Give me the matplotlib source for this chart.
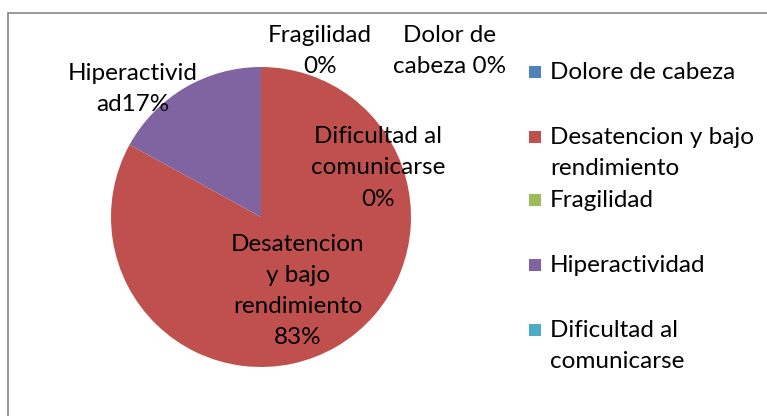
import matplotlib

matplotlib.use("Agg")
import matplotlib.pyplot as plt
from matplotlib.patches import Rectangle

plt.rcParams["font.family"] = ["Lato", "DejaVu Sans"]

categories = [
    "Dolore de cabeza",
    "Desatencion y bajo\nrendimiento",
    "Fragilidad",
    "Hiperactividad",
    "Dificultad al\ncomunicarse",
]
shares = [0, 83, 0, 17, 0]
data_labels = [
    "Dolor de\ncabeza 0%",
    "Desatencion\ny bajo\nrendimiento\n83%",
    "Fragilidad\n0%",
    "Hiperactivid\nad17%",
    "Dificultad al\ncomunicarse\n0%",
]
colors = ["#4F81BD", "#C0504D", "#9BBB59", "#8064A2", "#4BACC6"]

W, H = 767, 416
CX, CY, R = 261, 217, 150

# label centres in pixels, same order as categories
label_pos = [(450, 51), (298, 291), (320, 51), (133, 89), (378, 168)]
legend_y = [72, 137, 200, 265, 330]

FS = 17.5
LS = 1.6


def main():
    fig = plt.figure(figsize=(W / 100, H / 100), dpi=100)
    fig.patch.set_facecolor("white")

    # chart frame (only top and left edges are visible in the crop)
    fig.patches.append(
        Rectangle((8 / W, -0.1), 1.2, (H - 13) / H + 0.1, transform=fig.transFigure,
                  fill=False, edgecolor="#868686", linewidth=1.2)
    )

    ax = fig.add_axes([(CX - R) / W, (H - CY - R) / H, 2 * R / W, 2 * R / H])
    ax.pie(shares, colors=colors, startangle=90, counterclock=False, radius=1,
           wedgeprops=dict(linewidth=0))
    ax.set_xlim(-1, 1)
    ax.set_ylim(-1, 1)
    ax.set_aspect("equal")
    ax.axis("off")

    for text, (px, py) in zip(data_labels, label_pos):
        ax.text((px - CX) / R, (CY - py) / R, text, ha="center", va="center",
                fontsize=FS, color="black", linespacing=LS)

    # legend
    for name, col, y in zip(categories, colors, legend_y):
        fig.patches.append(
            Rectangle((529 / W, (H - y - 6) / H), 12 / W, 12 / H,
                      transform=fig.transFigure, facecolor=col, edgecolor="none")
        )
        fig.text(550 / W, (H - y + 10) / H, name, ha="left", va="top",
                 fontsize=FS, linespacing=LS, transform=fig.transFigure)

    fig.savefig("out.png", dpi=100)


if __name__ == "__main__":
    main()
